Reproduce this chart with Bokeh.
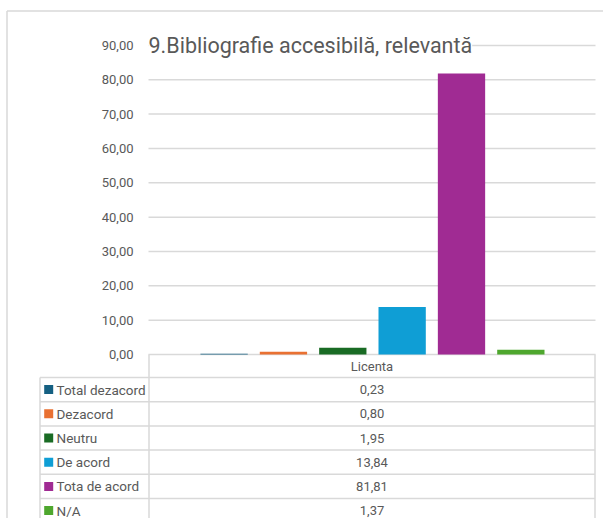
from bokeh.plotting import figure
from bokeh.models import Range1d, ColumnDataSource
from bokeh.embed import file_html
from bokeh.resources import INLINE
from bokeh.core.properties import value

# ---------------- data ----------------
title_text = "9.Bibliografie accesibilă, relevantă"
category = "Licenta"
series = ["Total dezacord", "Dezacord", "Neutru", "De acord", "Tota de acord", "N/A"]
values = [0.23, 0.80, 1.95, 13.84, 81.81, 1.37]
colors = ["#156082", "#E97132", "#196B24", "#0F9ED5", "#A02B93", "#4EA72E"]
y_ticks = [0, 10, 20, 30, 40, 50, 60, 70, 80, 90]

FONT = "Roboto"
TXT = "#595959"
LINE = "#d9d9d9"


def fmt(v):
    return f"{v:.2f}".replace(".", ",")


# ---------------- layout constants (pixels inside the figure) ----------------
W, H = 603, 518
PLOT_L = 148          # left edge of plotting area
PLOT_R = 595          # right edge of plotting area / table
PX_UNIT = 3.434       # pixels per value unit
ZERO_PX = 354         # zero line, px from top
PITCH = 59.35         # distance between bar centres
FIRST_C = 223.6       # first bar centre, px from left
BAR_W = 47.3
HEAD_B = 377          # bottom of the "Licenta" header row
ROW_H = 24.2
LEG_L = 39            # left edge of legend column
LW = 1.5

y_top = ZERO_PX / PX_UNIT
y_bot = -(H - ZERO_PX) / PX_UNIT

p = figure(width=W, height=H, output_backend="svg", toolbar_location=None,
           x_range=Range1d(0, W), y_range=Range1d(y_bot, y_top),
           x_axis_location=None, y_axis_location=None,
           min_border_left=0, min_border_right=0, min_border_top=0,
           min_border_bottom=0)
p.extra_x_ranges = {"bars": Range1d(-FIRST_C / PITCH, (W - FIRST_C) / PITCH)}
p.extra_y_ranges = {"px": Range1d(H, 0)}
p.outline_line_color = None
p.grid.visible = False
p.background_fill_color = "white"
p.border_fill_color = "white"

# outer chart border (left / top)
p.segment(x0=[6.5, 6.5], y0=[H, 10.5], x1=[6.5, W], y1=[10.5, 10.5],
          line_color=LINE, line_width=LW, y_range_name="px")

# gridlines + tick labels (value scale)
p.segment(x0=[PLOT_L] * len(y_ticks), y0=y_ticks, x1=[PLOT_R] * len(y_ticks),
          y1=y_ticks, line_color=LINE, line_width=LW)
p.text(x=[PLOT_L - 15] * len(y_ticks), y=y_ticks,
       text=[fmt(t) for t in y_ticks], text_font=value(FONT),
       text_font_size="13px", text_color=TXT, text_align="right",
       text_baseline="middle")

# bars
idx = list(range(len(series)))
src = ColumnDataSource(dict(x=idx, top=values, color=colors, name=series))
p.vbar(x="x", top="top", bottom=0, width=BAR_W / PITCH, fill_color="color",
       line_color=None, source=src, x_range_name="bars")

# title, white background hides the top gridline behind it
p.text(x=[PLOT_L], y=[y_ticks[-1]], text=[title_text], text_font=value(FONT),
       text_font_size="21.5px", text_color=TXT, text_align="left",
       text_baseline="alphabetic", background_fill_color="white")

# ---------------- data table ----------------
n = len(series)
row_tops = [HEAD_B + i * ROW_H for i in range(n)]
row_mid = [t + ROW_H / 2 for t in row_tops]
RIGHT_X = PLOT_R - 0.5
DIV_X = PLOT_L + 0.5
LEG_X = LEG_L + 0.5

# header cell verticals
p.segment(x0=[DIV_X, RIGHT_X], y0=[ZERO_PX, ZERO_PX], x1=[DIV_X, RIGHT_X],
          y1=[H, H], line_color=LINE, line_width=LW, y_range_name="px")
# row separators
p.segment(x0=[LEG_X] * n, y0=row_tops, x1=[RIGHT_X] * n, y1=row_tops,
          line_color=LINE, line_width=LW, y_range_name="px")
# legend column left border
p.segment(x0=[LEG_X], y0=[HEAD_B], x1=[LEG_X], y1=[H], line_color=LINE,
          line_width=LW, y_range_name="px")

p.text(x=[(PLOT_L + PLOT_R) / 2], y=[(ZERO_PX + HEAD_B) / 2], text=[category],
       text_font=value(FONT), text_font_size="13px", text_color=TXT,
       text_align="center", text_baseline="middle", y_range_name="px")

tsrc = ColumnDataSource(dict(
    mx=[LEG_L + 9.2] * n, tx=[LEG_L + 17] * n, vx=[(PLOT_L + PLOT_R) / 2] * n,
    y=row_mid, name=series, color=colors, val=[fmt(v) for v in values]))
p.rect(x="mx", y="y", width=9, height=9, fill_color="color", line_color=None,
       source=tsrc, y_range_name="px")
p.text(x="tx", y="y", text="name", text_font=value(FONT),
       text_font_size="13.5px", text_color=TXT, text_align="left",
       text_baseline="middle", source=tsrc, y_range_name="px")
p.text(x="vx", y="y", text="val", text_font=value(FONT),
       text_font_size="13px", text_color=TXT, text_align="center",
       text_baseline="middle", source=tsrc, y_range_name="px")

open("out.html", "w").write(file_html(p, INLINE))
